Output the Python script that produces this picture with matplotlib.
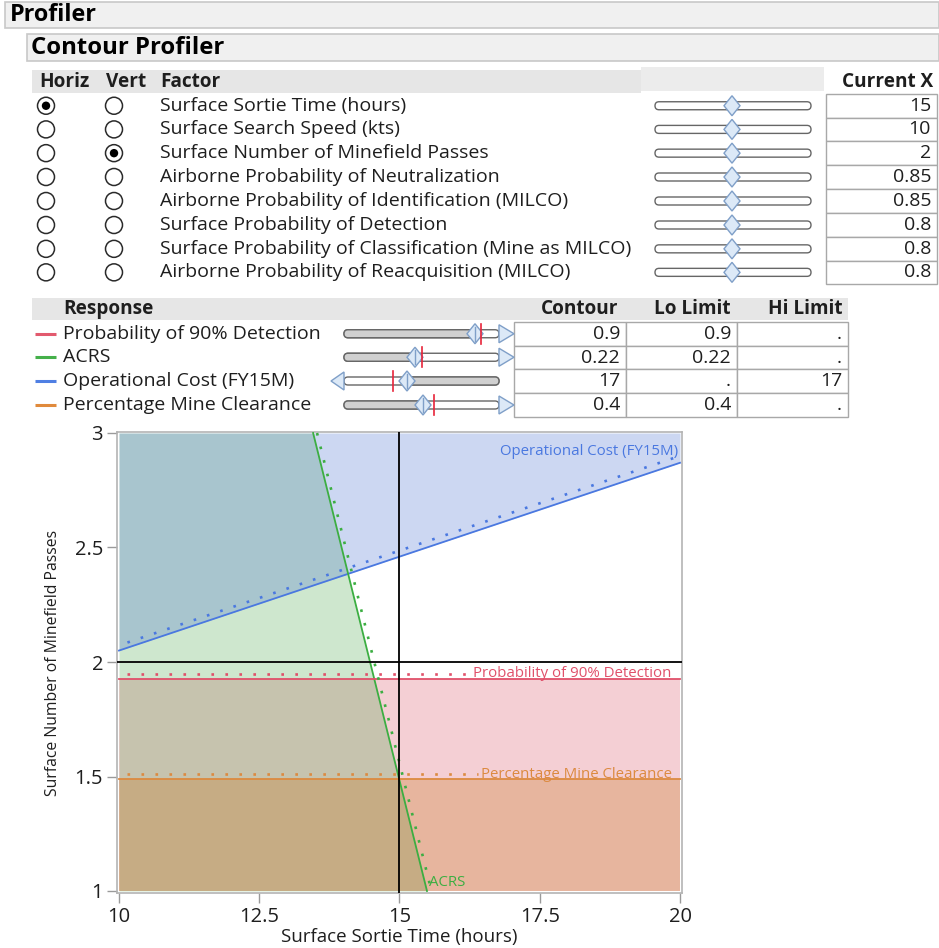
import matplotlib
matplotlib.use("Agg")
import matplotlib.pyplot as plt
from matplotlib.patches import Rectangle, Circle, Polygon, FancyBboxPatch
import numpy as np

plt.rcParams['font.family'] = ['Open Sans', 'DejaVu Sans']

# ---------------- data ----------------
factor_names = ["Surface Sortie Time (hours)", "Surface Search Speed (kts)",
                "Surface Number of Minefield Passes", "Airborne Probability of Neutralization",
                "Airborne Probability of Identification (MILCO)", "Surface Probability of Detection",
                "Surface Probability of Classification (Mine as MILCO)",
                "Airborne Probability of Reacquisition (MILCO)"]
factor_current = ["15", "10", "2", "0.85", "0.85", "0.8", "0.8", "0.8"]
horiz_sel = 0
vert_sel = 2

resp_names = ["Probability of 90% Detection", "ACRS", "Operational Cost (FY15M)",
              "Percentage Mine Clearance"]
resp_colors = ["#e25a6e", "#45b04a", "#4f7fe3", "#e08a3c"]
resp_contour = ["0.9", "0.22", "17", "0.4"]
resp_lo = ["0.9", "0.22", ".", "0.4"]
resp_hi = [".", ".", "17", "."]

# contour lines (x = sortie time, y = minefield passes)
cost_x = [10, 20]
cost_y = [2.05, 2.87]
acrs_x = [13.46, 15.49]
acrs_y = [3.0, 1.0]
detect_y = 1.926
clear_y = 1.489
cur_x, cur_y = 15, 2

W, H = 939, 948
fig = plt.figure(figsize=(W / 100, H / 100), dpi=100)
ui = fig.add_axes([0, 0, 1, 1])
ui.set_xlim(0, W)
ui.set_ylim(H, 0)
ui.axis('off')

TXT = '#1e1e1e'
DFC = '#dce9f7'
DEC = '#7f9fc8'
FS = 14.0
FSB = 13.7


def rect(x0, y0, x1, y1, fc, ec='none', lw=1.0, z=1):
    ui.add_patch(Rectangle((x0, y0), x1 - x0, y1 - y0, fc=fc, ec=ec, lw=lw, zorder=z))


def track(x0, x1, cy, fc='white'):
    ui.add_patch(FancyBboxPatch((x0, cy - 4), x1 - x0, 8,
                                boxstyle="round,pad=0,rounding_size=4",
                                fc=fc, ec='#666666', lw=1.0, zorder=3))


def diamond(cx, cy, line=False):
    ui.add_patch(Polygon([(cx - 8, cy), (cx, cy - 10), (cx + 8, cy), (cx, cy + 10)],
                         closed=True, fc=DFC, ec=DEC, lw=1.0, zorder=5))
    if line:
        ui.plot([cx, cx], [cy - 7, cy + 7], color=DEC, lw=1.0, zorder=6)


def tri(x0, x1, cy):
    ui.add_patch(Polygon([(x0, cy - 9), (x1, cy), (x0, cy + 9)], closed=True,
                         fc=DFC, ec=DEC, lw=1.0, zorder=5))


# header bars
rect(5, 2, 939, 28, '#f0f0f0', '#c8c8c8', 1.2)
ui.text(10, 15, "Profiler", fontsize=16.8, fontweight='bold', va='center', color='black')
rect(27, 34, 939, 61, '#f0f0f0', '#c8c8c8', 1.2)
ui.text(31, 47.5, "Contour Profiler", fontsize=17.2, fontweight='bold', va='center', color='black')

# factor table header
rect(32, 70, 641, 93, '#e6e6e6')
rect(641, 67, 824, 91, '#ececec')
for x, s in [(39, "Horiz"), (106, "Vert"), (160, "Factor")]:
    ui.text(x, 82, s, fontsize=FSB, fontweight='bold', va='center', color=TXT)
ui.text(933, 82, "Current X", fontsize=FSB, fontweight='bold', va='center', ha='right', color=TXT)

row_tops = [94, 117.5, 141.3, 165, 189, 213, 237, 260.7, 284]
for i, name in enumerate(factor_names):
    cy = (row_tops[i] + row_tops[i + 1]) / 2
    for j, cx in enumerate([46, 114]):
        ui.add_patch(Circle((cx, cy), 8.5, fc='white', ec='#2a2a2a', lw=1.1, zorder=3))
        if (j == 0 and i == horiz_sel) or (j == 1 and i == vert_sel):
            ui.add_patch(Circle((cx, cy), 4.2, fc='black', ec='none', zorder=4))
    ui.text(160, cy, name, fontsize=FS, va='center', color=TXT)
    track(655, 811, cy)
    diamond(732, cy)
    rect(826, row_tops[i], 937, row_tops[i + 1], 'white', '#a8a8a8', 1.0, z=2)
    ui.text(931, cy, factor_current[i], fontsize=FS, va='center', ha='right', color=TXT)

# response table header
rect(32, 298, 848, 320, '#e6e6e6')
ui.text(63, 309, "Response", fontsize=FSB, fontweight='bold', va='center', color=TXT)
ui.text(618, 309, "Contour", fontsize=FSB, fontweight='bold', va='center', ha='right', color=TXT)
ui.text(730, 309, "Lo Limit", fontsize=FSB, fontweight='bold', va='center', ha='right', color=TXT)
ui.text(843, 309, "Hi Limit", fontsize=FSB, fontweight='bold', va='center', ha='right', color=TXT)

r_tops = [322, 345.5, 369, 393, 417]
diam_x = [475, 415, 407, 423]
red_x = [481, 422, 393, 434]
col_x = [514, 626, 737, 848]
for i, name in enumerate(resp_names):
    cy = (r_tops[i] + r_tops[i + 1]) / 2
    ui.plot([35, 56], [cy, cy], color=resp_colors[i], lw=2.2, solid_capstyle='butt')
    ui.text(63, cy, name, fontsize=FS, va='center', color=TXT)
    track(344, 499, cy, fc='white')
    if i == 2:
        ui.add_patch(FancyBboxPatch((diam_x[i], cy - 4), 499 - diam_x[i], 8,
                                    boxstyle="round,pad=0,rounding_size=4",
                                    fc='#d0d0d0', ec='#666666', lw=1.0, zorder=3.5))
        tri(344, 331, cy)
    else:
        ui.add_patch(FancyBboxPatch((344, cy - 4), diam_x[i] - 344, 8,
                                    boxstyle="round,pad=0,rounding_size=4",
                                    fc='#d0d0d0', ec='#666666', lw=1.0, zorder=3.5))
        tri(499, 514, cy)
    diamond(diam_x[i], cy, line=True)
    ui.plot([red_x[i], red_x[i]], [cy - 10, cy + 10], color='#e8243a', lw=1.2, zorder=7)
    for k, vals in enumerate([resp_contour, resp_lo, resp_hi]):
        rect(col_x[k], r_tops[i], col_x[k + 1], r_tops[i + 1], 'white', '#a8a8a8', 1.0, z=2)
        ui.text(col_x[k + 1] - 6, cy + 0.5, vals[i], fontsize=FS, va='center', ha='right', color=TXT)

# ---------------- contour plot ----------------
px0, px1 = 117, 682
py0, py1 = 432, 893
ax = fig.add_axes([px0 / W, (H - py1) / H, (px1 - px0) / W, (py1 - py0) / H])
ax.set_xlim(10 - 2 / 56.1, 20 + 2 / 56.1)
ax.set_ylim(1 - 2 / 229, 3 + 1 / 229)

ax.fill_between([10, 20], 1, detect_y, color=(215 / 255, 67 / 255, 87 / 255), alpha=0.25, lw=0, zorder=1.0)
ax.fill_betweenx(acrs_y, 10, acrs_x, color=(63 / 255, 163 / 255, 63 / 255), alpha=0.25, lw=0, zorder=1.1)
ax.fill_between([10, 20], 1, clear_y, color=(201 / 255, 121 / 255, 36 / 255), alpha=0.3, lw=0, zorder=1.2)
ax.fill_between(cost_x, cost_y, 3, color=(55 / 255, 99 / 255, 207 / 255), alpha=0.25, lw=0, zorder=1.3)

ax.plot(cost_x, cost_y, color='#4a78e0', lw=1.3, zorder=3)
ax.plot(acrs_x, acrs_y, color='#3cae42', lw=1.3, zorder=3)
ax.plot([10, 20], [detect_y, detect_y], color='#e0506a', lw=1.3, zorder=3)
ax.plot([10, 20], [clear_y, clear_y], color='#dc8a40', lw=1.3, zorder=3)

dots = dict(lw=1.9, linestyle=(0, (1, 4.3)), zorder=3)
ax.plot([10.15, 20], [cost_y[0] + 0.035, cost_y[1] + 0.03], color='#4a78e0', **dots)
ax.plot([acrs_x[0] + 0.07, acrs_x[1] + 0.08], acrs_y, color='#3cae42', **dots)
ax.plot([10.15, 16.2], [detect_y + 0.022] * 2, color='#e0506a', **dots)
ax.plot([10.15, 16.4], [clear_y + 0.02] * 2, color='#dc8a40', **dots)

ax.axvline(cur_x, color='black', lw=1.3, zorder=4)
ax.axhline(cur_y, color='black', lw=1.3, zorder=4)

LF = 10.8
ax.text(19.97, 2.885, "Operational Cost (FY15M)", color='#4a78e0', fontsize=LF, ha='right', va='bottom', zorder=5)
ax.text(19.85, detect_y + 0.022, "Probability of 90% Detection", color='#e0506a', fontsize=LF,
        ha='right', va='center', zorder=5)
ax.text(19.85, clear_y + 0.02, "Percentage Mine Clearance", color='#dc8a40', fontsize=LF,
        ha='right', va='center', zorder=5)
ax.text(acrs_x[1] + 0.03, 1.005, "ACRS", color='#3cae42', fontsize=LF, ha='left', va='bottom', zorder=5)

ax.set_xticks([10, 12.5, 15, 17.5, 20])
ax.set_xticklabels(["10", "12.5", "15", "17.5", "20"])
ax.set_yticks([1, 1.5, 2, 2.5, 3])
ax.set_yticklabels(["1", "1.5", "2", "2.5", "3"])
ax.tick_params(direction='out', length=7, width=1, color='#9a9a9a', labelsize=14.5, labelcolor=TXT, pad=3)
for s in ax.spines.values():
    s.set_color('#b4b4b4')
    s.set_linewidth(1.2)
ax.set_xlabel("Surface Sortie Time (hours)", fontsize=13.5, color=TXT, labelpad=1)
ax.set_ylabel("Surface Number of Minefield Passes", fontsize=11.3, color=TXT, labelpad=10)

fig.savefig("out.png", dpi=100)
